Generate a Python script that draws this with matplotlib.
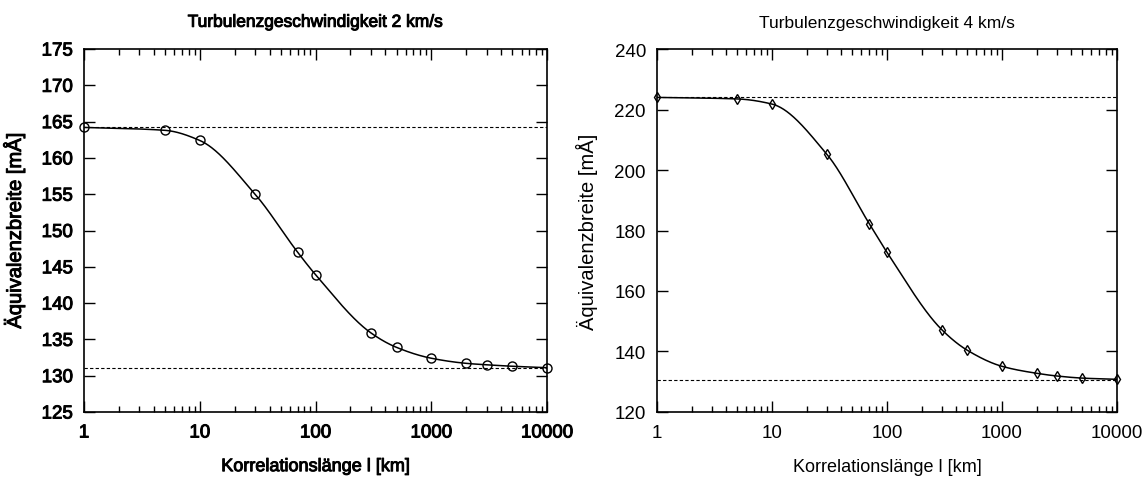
import matplotlib
matplotlib.use('Agg')
import matplotlib.pyplot as plt
import matplotlib.patheffects as pe
import numpy as np
from matplotlib.ticker import LogLocator, FixedLocator, NullFormatter, FuncFormatter

plt.rcParams['font.family'] = ['Liberation Sans', 'DejaVu Sans']

# Korrelationslaenge [km]
laenge = [1, 5, 10, 30, 70, 100, 300, 500, 1000, 2000, 3000, 5000, 10000]

# Aequivalenzbreite [mA], Turbulenz 2 km/s
breite_2 = [164.2, 163.8, 162.4, 155.0, 147.0, 143.9, 135.9, 133.9, 132.4, 131.7, 131.5, 131.3, 131.1]
grenzen_2 = [164.2, 131.1]

# Aequivalenzbreite [mA], Turbulenz 4 km/s
breite_4 = [224.0, 223.5, 221.8, 205.2, 182.3, 172.8, 147.2, 140.4, 135.1, 132.8, 131.9, 131.2, 130.8]
grenzen_4 = [224.0, 130.7]


def pchip(x, y, xs):
    # monotone cubic curve through the points (like a smooth spline)
    x = np.asarray(x, float)
    y = np.asarray(y, float)
    h = np.diff(x)
    d = np.diff(y) / h
    m = np.zeros_like(y)
    for k in range(1, len(x) - 1):
        if d[k - 1] * d[k] > 0:
            w1 = 2 * h[k] + h[k - 1]
            w2 = h[k] + 2 * h[k - 1]
            m[k] = (w1 + w2) / (w1 / d[k - 1] + w2 / d[k])
    m[0] = d[0]
    m[-1] = d[-1]
    idx = np.clip(np.searchsorted(x, xs) - 1, 0, len(x) - 2)
    t = (xs - x[idx]) / h[idx]
    h00 = 2 * t**3 - 3 * t**2 + 1
    h10 = t**3 - 2 * t**2 + t
    h01 = -2 * t**3 + 3 * t**2
    h11 = t**3 - t**2
    return h00 * y[idx] + h10 * h[idx] * m[idx] + h01 * y[idx + 1] + h11 * h[idx] * m[idx + 1]


def draw(ax, werte, grenzen, titel, yticks, marker, msize, dick):
    lx = np.log10(laenge)
    xs = np.linspace(lx[0], lx[-1], 600)
    ax.plot(10**xs, pchip(lx, werte, xs), color='black', lw=1.1)
    ax.plot(laenge, werte, linestyle='none', marker=marker, ms=msize, mfc='none',
            mec='black', mew=1.0, clip_on=False, zorder=5)
    for g in grenzen:
        ax.axhline(g, color='black', lw=0.8, linestyle=(0, (3, 2)))

    ax.set_xscale('log')
    ax.set_xlim(1, 10000)
    ax.set_ylim(yticks[0], yticks[-1])
    ax.yaxis.set_major_locator(FixedLocator(yticks))
    ax.xaxis.set_major_locator(LogLocator(base=10, numticks=10))
    ax.xaxis.set_minor_locator(LogLocator(base=10, subs=np.arange(2, 10), numticks=10))
    ax.xaxis.set_minor_formatter(NullFormatter())
    ax.xaxis.set_major_formatter(FuncFormatter(lambda v, p: '%d' % v))

    ax.tick_params(which='both', direction='in', top=True, right=True, width=1.0)
    ax.tick_params(which='major', length=8, labelsize=13.5)
    ax.tick_params(axis='x', which='major', pad=9)
    ax.tick_params(axis='y', which='major', pad=8)
    ax.tick_params(which='minor', length=4)
    for s in ax.spines.values():
        s.set_linewidth(1.2)

    t = ax.set_title(titel, fontsize=12.5, pad=16)
    xl = ax.set_xlabel('Korrelationslänge l [km]', fontsize=13, labelpad=12)
    yl = ax.set_ylabel('Äquivalenzbreite [mÅ]', fontsize=14.5, labelpad=12)
    if dick:
        eff = [pe.withStroke(linewidth=0.7, foreground='black')]
        for txt in [t, xl, yl] + ax.get_xticklabels() + ax.get_yticklabels():
            txt.set_path_effects(eff)


fig = plt.figure(figsize=(11.45, 4.81), dpi=100)
ax1 = fig.add_axes([0.0734, 0.1414, 0.4045, 0.7546])
ax2 = fig.add_axes([0.5738, 0.1414, 0.4017, 0.7546])

draw(ax1, breite_2, grenzen_2, 'Turbulenzgeschwindigkeit 2 km/s',
     [125, 130, 135, 140, 145, 150, 155, 160, 165, 170, 175], 'o', 6.5, True)
draw(ax2, breite_4, grenzen_4, 'Turbulenzgeschwindigkeit 4 km/s',
     [120, 140, 160, 180, 200, 220, 240], 'd', 5, False)

fig.savefig('out.png', dpi=100)
